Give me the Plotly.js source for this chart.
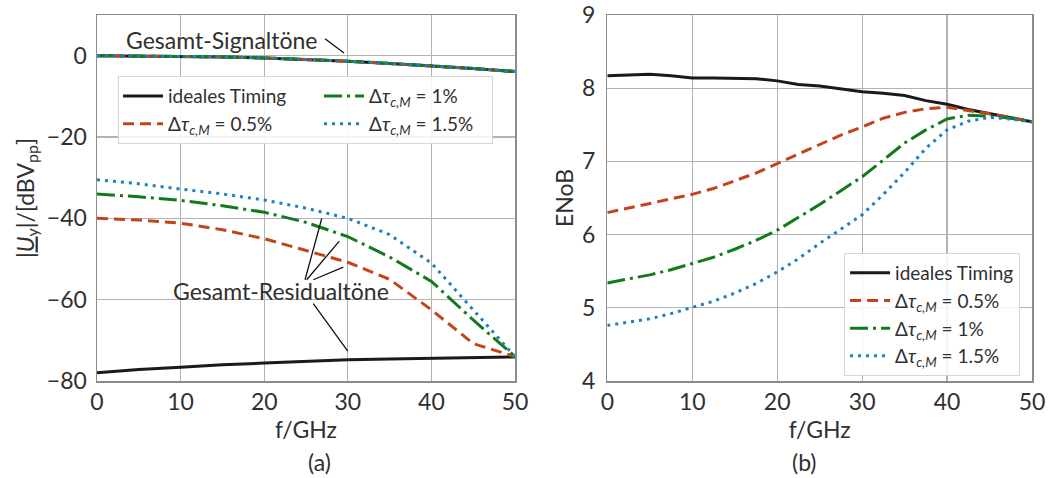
<!DOCTYPE html>
<html>
<head>
<meta charset="utf-8">
<script src="https://cdn.plot.ly/plotly-3.0.1.min.js"></script>
<style>
  html, body { margin: 0; padding: 0; background: #ffffff; }
  #chart { width: 1049px; height: 478px; }
</style>
</head>
<body>
<div id="chart"></div>
<script>
// ---- (a) tone levels over frequency ----
const freqA = [0, 5, 10, 15, 20, 25, 30, 35, 40, 45, 50];
const signalTones = [0, -0.05, -0.15, -0.3, -0.55, -0.9, -1.35, -1.9, -2.5, -3.15, -3.9];
const residualIdeal = [-78, -77.2, -76.6, -76.0, -75.6, -75.2, -74.8, -74.6, -74.4, -74.2, -74.1];
const residual05 = [-40, -40.4, -41.2, -42.8, -45, -47.9, -50.8, -55, -62.5, -70.8, -74];
const residual10 = [-34, -34.7, -35.6, -36.9, -38.5, -41, -44.5, -49.5, -55.5, -65, -74];
const residual15 = [-30.5, -31.5, -32.8, -34, -35.5, -37.5, -40, -44, -51, -62.5, -74];

// ---- (b) effective number of bits ----
const freqB = [0, 2.5, 5, 7.5, 10, 12.5, 15, 17.5, 20, 22.5, 25, 27.5, 30, 32.5, 35, 37.5, 40, 42.5, 45, 47.5, 50];
const enobIdeal = [8.17, 8.18, 8.19, 8.17, 8.14, 8.14, 8.13, 8.13, 8.10, 8.05, 8.03, 7.99, 7.95, 7.93, 7.90, 7.83, 7.78, 7.71, 7.65, 7.60, 7.54];
const enob05 = [6.30, 6.36, 6.42, 6.48, 6.55, 6.63, 6.73, 6.84, 6.97, 7.10, 7.24, 7.36, 7.47, 7.59, 7.67, 7.72, 7.74, 7.70, 7.65, 7.60, 7.54];
const enob10 = [5.34, 5.39, 5.45, 5.52, 5.60, 5.69, 5.80, 5.92, 6.06, 6.23, 6.41, 6.60, 6.79, 7.02, 7.25, 7.43, 7.58, 7.63, 7.62, 7.59, 7.54];
const enob15 = [4.76, 4.80, 4.85, 4.92, 5.00, 5.09, 5.20, 5.33, 5.49, 5.67, 5.88, 6.08, 6.27, 6.55, 6.85, 7.18, 7.43, 7.55, 7.60, 7.58, 7.54];

const seriesNames = [
  'ideales Timing',
  'Δ<i>τ</i><sub><i>c,M</i></sub> = 0.5%',
  'Δ<i>τ</i><sub><i>c,M</i></sub> = 1%',
  'Δ<i>τ</i><sub><i>c,M</i></sub> = 1.5%'
];

const FONT = 'Lato, "DejaVu Sans", sans-serif';
const TXT = '#303030';
const BIG = 23;
const LEG = 19;
const LW = 3;
const styles = [
  { color: '#1a1a1a', width: LW, dash: 'solid' },
  { color: '#c2451a', width: LW, dash: '11px,6px' },
  { color: '#137a1c', width: LW, dash: '18px,5px,3px,5px' },
  { color: '#1f7fc0', width: LW, dash: '3px,5px' }
];

const residuals = [residualIdeal, residual05, residual10, residual15];
const enobs = [enobIdeal, enob05, enob10, enob15];
// two legend columns in panel (a): first column wider than the second
const groupOf = ['c1', 'c1', 'c2', 'c2'];
const colWidth = [146, 146, 118, 118];

const traces = [];
// signal tones: all four cases lie on top of each other
for (let i = 0; i < 4; i++) {
  traces.push({
    x: freqA, y: signalTones, xaxis: 'x', yaxis: 'y',
    mode: 'lines', line: styles[i], showlegend: false,
    legendgroup: groupOf[i], hoverinfo: 'skip'
  });
}
// residual tones with the two-column legend
for (let i = 0; i < 4; i++) {
  traces.push({
    x: freqA, y: residuals[i], xaxis: 'x', yaxis: 'y',
    mode: 'lines', line: styles[i], name: seriesNames[i],
    legend: 'legend', legendgroup: groupOf[i], legendwidth: colWidth[i]
  });
}
// ENoB
for (let i = 0; i < 4; i++) {
  traces.push({
    x: freqB, y: enobs[i], xaxis: 'x2', yaxis: 'y2',
    mode: 'lines', line: styles[i], name: seriesNames[i],
    legend: 'legend2'
  });
}

const axisBase = {
  showline: true, mirror: true, linecolor: '#8c8c8c', linewidth: 1.5,
  showgrid: true, gridcolor: '#b3b3b3', gridwidth: 1.2,
  zeroline: false, ticks: '',
  tickfont: { family: FONT, size: BIG, color: TXT }
};
const titleFont = { family: FONT, size: BIG, color: TXT };

const leader = (x0, y0, x1, y1) => ({
  type: 'line', xref: 'x', yref: 'y', x0, y0, x1, y1,
  line: { color: '#111111', width: 1.3 }, layer: 'above'
});

const layout = {
  width: 1049, height: 478,
  paper_bgcolor: '#ffffff', plot_bgcolor: '#ffffff',
  margin: { l: 97, r: 17, t: 15, b: 97 },
  font: { family: FONT, color: TXT },
  showlegend: true,
  xaxis: Object.assign({}, axisBase, {
    domain: [0, 0.4471], range: [0, 50], tickvals: [0, 10, 20, 30, 40, 50],
    ticklabelstandoff: 0,
    title: { text: 'f/GHz', font: titleFont, standoff: 0 }
  }),
  yaxis: Object.assign({}, axisBase, {
    domain: [0, 1], range: [-80, 10], tickvals: [-80, -60, -40, -20, 0],
    ticklabelstandoff: 4,
    title: { text: '|<i><u>U</u></i><sub>y</sub>|/[dBV<sub>pp</sub>]', font: titleFont, standoff: 6 }
  }),
  xaxis2: Object.assign({}, axisBase, {
    domain: [0.5458, 1], range: [0, 50], tickvals: [0, 10, 20, 30, 40, 50], anchor: 'y2',
    ticklabelstandoff: 0,
    title: { text: 'f/GHz', font: titleFont, standoff: 0 }
  }),
  yaxis2: Object.assign({}, axisBase, {
    domain: [0, 1], range: [4, 9], tickvals: [4, 5, 6, 7, 8, 9], anchor: 'x2',
    ticklabelstandoff: 6,
    title: { text: 'ENoB', font: titleFont, standoff: 2 }
  }),
  legend: {
    orientation: 'h', x: 0.0225, y: 0.833, xanchor: 'left', yanchor: 'top',
    xref: 'paper', yref: 'paper',
    bgcolor: 'rgba(255,255,255,0.85)', bordercolor: '#d6d6d6', borderwidth: 1,
    font: { family: FONT, size: LEG, color: TXT },
    itemwidth: 40, traceorder: 'grouped'
  },
  legend2: {
    orientation: 'v', x: 0.799, y: 0.35, xanchor: 'left', yanchor: 'top',
    xref: 'paper', yref: 'paper',
    bgcolor: 'rgba(255,255,255,0.85)', bordercolor: '#d6d6d6', borderwidth: 1,
    font: { family: FONT, size: LEG, color: TXT },
    itemwidth: 40
  },
  annotations: [
    { xref: 'x', yref: 'y', x: 15.0, y: 3.78, text: 'Gesamt-Signaltöne', showarrow: false,
      font: titleFont },
    { xref: 'x', yref: 'y', x: 21.97, y: -57.9, text: 'Gesamt-Residualtöne', showarrow: false,
      font: titleFont },
    { xref: 'paper', yref: 'paper', x: 0.2235, y: -0.2225, yanchor: 'middle', text: '(a)', showarrow: false,
      font: titleFont },
    { xref: 'paper', yref: 'paper', x: 0.7727, y: -0.2225, yanchor: 'middle', text: '(b)', showarrow: false,
      font: titleFont }
  ],
  shapes: [
    leader(27.27, 4.18, 29.55, 0.66),
    leader(24.88, -55.1, 26.88, -40.05),
    leader(25.08, -55.1, 28.98, -45.6),
    leader(25.87, -55.1, 29.46, -52.0),
    leader(25.87, -61.0, 29.99, -72.65)
  ]
};

Plotly.newPlot('chart', traces, layout, { staticPlot: true, displayModeBar: false });
</script>
</body>
</html>
